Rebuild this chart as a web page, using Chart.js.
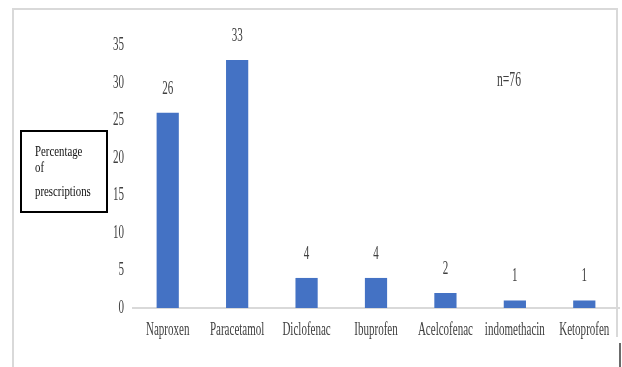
<!DOCTYPE html>
<html>
<head>
<meta charset="utf-8">
<title>Percentage of prescriptions</title>
<script src="https://cdn.jsdelivr.net/npm/chart.js@4/dist/chart.umd.min.js"></script>
<style>
  html, body { margin: 0; padding: 0; background: #ffffff; }
  canvas { display: block; }
</style>
</head>
<body>
<canvas id="c" width="622" height="367"></canvas>
<script>
// Drugs prescribed and their share of prescriptions (%)
const drugs = ['Naproxen', 'Paracetamol', 'Diclofenac', 'Ibuprofen', 'Acelcofenac', 'indomethacin', 'Ketoprofen'];
const percentages = [26, 33, 4, 4, 2, 1, 1];
const yTicks = [0, 5, 10, 15, 20, 25, 30, 35];
const sampleNote = 'n=76';
const axisTitleLines = ['Percentage', 'of', 'prescriptions'];

const SERIF = '"Liberation Serif", "DejaVu Serif", serif';
const TEXT = '#404040';
const NARROW = 0.58; // horizontal squeeze of the condensed serif lettering

// Draw all chart text horizontally condensed
const condensedText = {
  id: 'condensedText',
  beforeInit(chart) {
    const ctx = chart.ctx;
    const proto = CanvasRenderingContext2D.prototype;
    ctx.fillText = function (text, x, y) {
      this.save();
      this.translate(x, y);
      this.scale(NARROW, 1);
      proto.fillText.call(this, text, 0, 0);
      this.restore();
    };
    ctx.measureText = function (text) {
      const m = proto.measureText.call(this, text);
      return {
        width: m.width * NARROW,
        actualBoundingBoxAscent: m.actualBoundingBoxAscent,
        actualBoundingBoxDescent: m.actualBoundingBoxDescent
      };
    };
  }
};

// Outer frame, axis-title box, note and value labels
const decorations = {
  id: 'decorations',
  beforeDraw(chart) {
    const ctx = chart.ctx;
    ctx.save();
    ctx.fillStyle = '#ffffff';
    ctx.fillRect(0, 0, chart.width, chart.height);
    ctx.strokeStyle = '#d9d9d9';
    ctx.lineWidth = 2;
    ctx.beginPath();
    ctx.moveTo(13, 367);
    ctx.lineTo(13, 9);
    ctx.lineTo(617, 9);
    ctx.lineTo(617, 337);
    ctx.stroke();
    ctx.strokeStyle = '#6b6b6b';
    ctx.beginPath();
    ctx.moveTo(620, 343);
    ctx.lineTo(620, 367);
    ctx.stroke();
    ctx.restore();
  },
  afterDatasetsDraw(chart) {
    const ctx = chart.ctx;
    const proto = CanvasRenderingContext2D.prototype;
    ctx.save();

    // value labels above the bars
    ctx.font = '19px ' + SERIF;
    ctx.fillStyle = TEXT;
    ctx.textAlign = 'center';
    ctx.textBaseline = 'middle';
    const meta = chart.getDatasetMeta(0);
    meta.data.forEach((bar, i) => {
      ctx.fillText(String(percentages[i]), bar.x, bar.y - 24);
    });

    // sample size note
    ctx.font = '20px ' + SERIF;
    ctx.textAlign = 'left';
    ctx.fillText(sampleNote, 497, 81);

    // boxed axis title
    ctx.strokeStyle = '#000000';
    ctx.lineWidth = 2;
    ctx.strokeRect(21, 131, 86, 81);
    ctx.font = '15px ' + SERIF;
    ctx.fillStyle = '#111111';
    ctx.textBaseline = 'alphabetic';
    const baselines = [156, 172, 196];
    axisTitleLines.forEach((line, i) => {
      ctx.save();
      ctx.translate(35, baselines[i]);
      ctx.scale(0.72, 1);
      proto.fillText.call(ctx, line, 0, 0);
      ctx.restore();
    });
    ctx.restore();
  }
};

new Chart(document.getElementById('c'), {
  type: 'bar',
  data: {
    labels: drugs,
    datasets: [{
      data: percentages,
      backgroundColor: '#4472c4',
      borderWidth: 0,
      barPercentage: 0.32,
      categoryPercentage: 1
    }]
  },
  options: {
    responsive: false,
    devicePixelRatio: 1,
    animation: false,
    layout: { padding: { left: 93, right: 3, top: 45, bottom: 9 } },
    plugins: {
      legend: { display: false },
      tooltip: { enabled: false }
    },
    scales: {
      x: {
        grid: { display: false },
        border: { display: true, color: '#d9d9d9', width: 2 },
        ticks: {
          color: TEXT,
          font: { family: SERIF, size: 19 },
          padding: 3,
          maxRotation: 0,
          minRotation: 0,
          autoSkip: false
        },
        afterFit(s) { s.height = 50; }
      },
      y: {
        min: 0,
        max: 35,
        grid: { display: false },
        border: { display: false },
        afterBuildTicks(s) { s.ticks = yTicks.map(v => ({ value: v })); },
        ticks: {
          color: TEXT,
          font: { family: SERIF, size: 19 },
          padding: 1
        },
        afterFit(s) { s.width = 40; }
      }
    }
  },
  plugins: [condensedText, decorations]
});
</script>
</body>
</html>
